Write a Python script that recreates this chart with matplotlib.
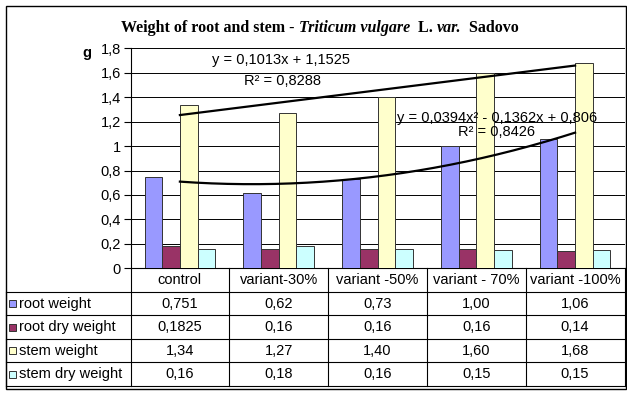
import numpy as np
import matplotlib
matplotlib.use("Agg")
import matplotlib.pyplot as plt
from matplotlib.patches import Rectangle
from matplotlib.lines import Line2D
from matplotlib.ticker import FuncFormatter

# ---- data ----
categories = ["control", "variant-30%", "variant -50%", "variant - 70%", "variant -100%"]
series_names = ["root weight", "root dry weight", "stem weight", "stem dry weight"]
root_weight = [0.751, 0.62, 0.73, 1.00, 1.06]
root_dry_weight = [0.1825, 0.16, 0.16, 0.16, 0.14]
stem_weight = [1.34, 1.27, 1.40, 1.60, 1.68]
stem_dry_weight = [0.16, 0.18, 0.16, 0.15, 0.15]
series_colors = ["#9999FF", "#993366", "#FFFFCC", "#CCFFFF"]
# trend lines (Excel coefficients, highest power first)
linear_coef = [0.1013, 1.1525]          # on stem weight
linear_r2 = 0.8288
poly_coef = [0.0394, -0.1362, 0.806]    # on root weight
poly_r2 = 0.8426
yticks = [0, 0.2, 0.4, 0.6, 0.8, 1.0, 1.2, 1.4, 1.6, 1.8]

series = [root_weight, root_dry_weight, stem_weight, stem_dry_weight]

W, H = 627, 394
fig = plt.figure(figsize=(W / 100, H / 100), dpi=100)
plt.rcParams["font.family"] = ["Liberation Sans", "DejaVu Sans"]
FS = 10.5

def fx(x):
    return x / W

def fy(y):
    return 1 - y / H

# plot area in pixel coords
PL, PR, PT, PB = 130.5, 624.5, 48.3, 268.3
ax = fig.add_axes([fx(PL), fy(PB), fx(PR) - fx(PL), fy(PT) - fy(PB)])
n = len(categories)
x = np.arange(n)
bw = 0.179
offsets = (np.arange(4) - 1.5) * bw
for vals, off, col in zip(series, offsets, series_colors):
    ax.bar(x + off, vals, width=bw, color=col, edgecolor="#333333", linewidth=0.7, zorder=3)

# trend lines
xs = np.linspace(0, n - 1, 200)
ax.plot(xs, np.polyval(linear_coef, xs + 1), color="black", lw=1.6, zorder=4)
ax.plot(xs, np.polyval(poly_coef, xs + 1), color="black", lw=1.6, zorder=4)

ax.set_xlim(-0.5, n - 0.5)
ax.set_ylim(0, 1.8)
ax.set_yticks(yticks)
def yfmt(v, pos):
    s = f"{v:.1f}"
    if s.endswith(".0"):
        s = s[:-2]
    return s.replace(".", ",")
ax.yaxis.set_major_formatter(FuncFormatter(yfmt))
ax.tick_params(axis="y", direction="out", length=5, width=0.8, labelsize=FS, pad=2)
ax.set_xticks([])
ax.grid(axis="y", color="black", lw=0.7, zorder=0)
ax.set_axisbelow(True)
for s in ["top", "right"]:
    ax.spines[s].set_visible(False)
ax.spines["left"].set_linewidth(0.8)
ax.spines["bottom"].set_linewidth(0.8)
ax.patch.set_alpha(0)

def fmt_eq(v):
    return f"{v}".replace(".", ",")

# trend line labels
fig.text(fx(281.5), fy(60), f"y = {fmt_eq(linear_coef[0])}x + {fmt_eq(linear_coef[1])}",
         ha="center", va="center", fontsize=FS)
fig.text(fx(283), fy(81), f"R² = {fmt_eq(linear_r2)}", ha="center", va="center", fontsize=FS)
fig.text(fx(497), fy(118),
         f"y = {fmt_eq(poly_coef[0])}x² - {fmt_eq(-poly_coef[1])}x + {fmt_eq(poly_coef[2])}",
         ha="center", va="center", fontsize=FS, zorder=5)
fig.text(fx(496.5), fy(132), f"R² = {fmt_eq(poly_r2)}", ha="center", va="center", fontsize=FS, zorder=5)

# y label
fig.text(fx(87), fy(53), "g", ha="center", va="center", fontsize=FS, fontweight="bold")

# title with mixed styles
title_parts = [("Weight of root and stem - ", "normal"), ("Triticum vulgare", "italic"),
               ("  L. ", "normal"), ("var.", "italic"), ("  Sadovo", "normal")]
fig.canvas.draw()
r = fig.canvas.get_renderer()
objs = []
for txt, st in title_parts:
    t = fig.text(0, fy(28), txt, ha="left", va="center", fontsize=11.5, fontweight="bold",
                 fontstyle=st, family=["Liberation Serif", "DejaVu Serif"])
    objs.append(t)
widths = [o.get_window_extent(r).width for o in objs]
total = sum(widths)
cur = 320 - total / 2
for o, w in zip(objs, widths):
    o.set_x(fx(cur))
    cur += w

# data table
TL, TB = 5.7, 386.0
row_h = (TB - PB) / 5
col_edges = [PL + k * (PR - PL) / n for k in range(n + 1)]
lines = []
for k in range(1, 6):
    yy = PB + k * row_h
    lines.append(((TL, yy), (PR, yy)))
for xe in col_edges:
    lines.append(((xe, PB), (xe, TB)))
lines.append(((TL, PB + row_h), (TL, TB)))
for (x0, y0), (x1, y1) in lines:
    fig.add_artist(Line2D([fx(x0), fx(x1)], [fy(y0), fy(y1)], color="black", lw=0.8,
                          transform=fig.transFigure))

def fmt_val(v):
    s = f"{v:.2f}" if round(v, 2) == v else f"{v}"
    return s.replace(".", ",")

for i, c in enumerate(categories):
    cx = (col_edges[i] + col_edges[i + 1]) / 2
    fig.text(fx(cx), fy(PB + row_h / 2), c, ha="center", va="center", fontsize=FS)
for r_i, (name, vals, col) in enumerate(zip(series_names, series, series_colors)):
    cy = PB + (r_i + 1.5) * row_h
    fig.add_artist(Rectangle((fx(9), fy(cy + 3.5)), 7 / W, 7 / H, facecolor=col,
                             edgecolor="#333333", lw=0.7, transform=fig.transFigure))
    fig.text(fx(19), fy(cy), name, ha="left", va="center", fontsize=FS)
    for i, v in enumerate(vals):
        cx = (col_edges[i] + col_edges[i + 1]) / 2
        fig.text(fx(cx), fy(cy), fmt_val(v), ha="center", va="center", fontsize=FS)

# outer border
fig.add_artist(Rectangle((fx(5.5), fy(389)), (626 - 5.5) / W, (389 - 5.5) / H, fill=False,
                         edgecolor="black", lw=1.0, transform=fig.transFigure))

fig.savefig("out.png", dpi=100)
